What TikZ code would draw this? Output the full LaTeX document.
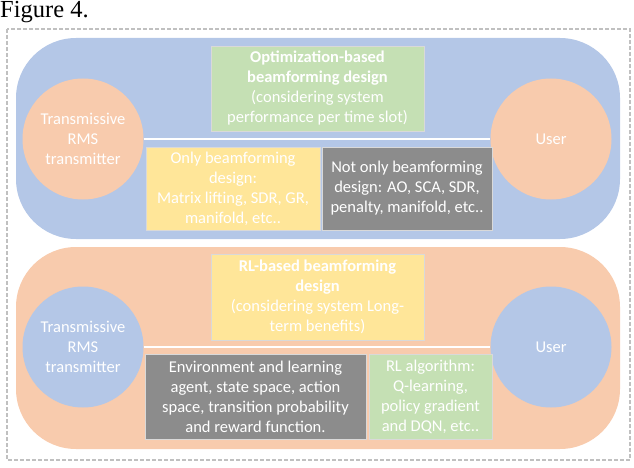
\documentclass[tikz,border=0pt]{standalone}
\usepackage{fontspec}
\setmainfont{Carlito}
\newfontfamily\timesfont{Liberation Serif}
\definecolor{pblue}{HTML}{B4C7E7}
\definecolor{porange}{HTML}{F8CBAD}
\definecolor{pgreen}{HTML}{C5E0B4}
\definecolor{pyellow}{HTML}{FFE699}
\definecolor{pgray}{HTML}{8C8C8C}
\definecolor{framegray}{HTML}{C0C0C0}
\begin{document}
\begin{tikzpicture}[x=1pt,y=-1pt,
  txt/.style={text=white,font=\fontsize{16.5}{20}\selectfont,align=center},
  band/.style={rounded corners=60pt},
  ball/.style={circle,minimum size=121pt,inner sep=0pt,txt},
  panel/.style={inner sep=0pt,txt,draw=white!85!black,line width=0.4pt},
  link/.style={white,line width=1.5pt}]
\useasboundingbox (0,0) rectangle (634,468);
\node[anchor=base west,inner sep=0pt,font=\timesfont\fontsize{24.5}{28}\selectfont] (title) at (0,18) {Figure 4.};
\draw[framegray,line width=1.2pt,dash pattern=on 4pt off 2pt] (7,29) rectangle (630,460);
\fill[pblue,band] (16,38) rectangle (620,239);
\fill[porange,band] (16,247) rectangle (620,449);
% upper
\node[ball,fill=porange] (tx1) at (83,139) {Transmissive\\RMS\\transmitter};
\node[ball,fill=porange] (u1) at (551,139) {User};
\draw[link] (tx1.east) -- (u1.west);
\node[panel,fill=pgreen,minimum width=213pt,minimum height=85pt] (opt) at (317.5,88.5)
  {\textbf{Optimization-based}\\\textbf{beamforming design}\\(considering system\\performance per time slot)};
\node[panel,fill=pyellow,minimum width=174pt,minimum height=83pt] (only) at (233,188.5)
  {Only beamforming\\design:\\Matrix lifting, SDR, GR,\\manifold, etc..};
\node[panel,fill=pgray,minimum width=170pt,minimum height=83pt] (notonly) at (407,188.5)
  {Not only beamforming\\design: AO, SCA, SDR,\\penalty, manifold, etc..};
% lower
\node[ball,fill=pblue] (tx2) at (83,347) {Transmissive\\RMS\\transmitter};
\node[ball,fill=pblue] (u2) at (551,347) {User};
\draw[link] (tx2.east) -- (u2.west);
\node[panel,fill=pyellow,minimum width=213pt,minimum height=86pt] (rl) at (317.5,297)
  {\textbf{RL-based beamforming}\\\textbf{design}\\(considering system Long-\\term benefits)};
\node[panel,fill=pgray,minimum width=221pt,minimum height=85pt] (env) at (255.5,396.5)
  {Environment and learning\\agent, state space, action\\space, transition probability\\and reward function.};
\node[panel,fill=pgreen,minimum width=123pt,minimum height=85pt] (alg) at (430.5,396.5)
  {RL algorithm:\\Q-learning,\\policy gradient\\and DQN, etc..};
\end{tikzpicture}
\end{document}
